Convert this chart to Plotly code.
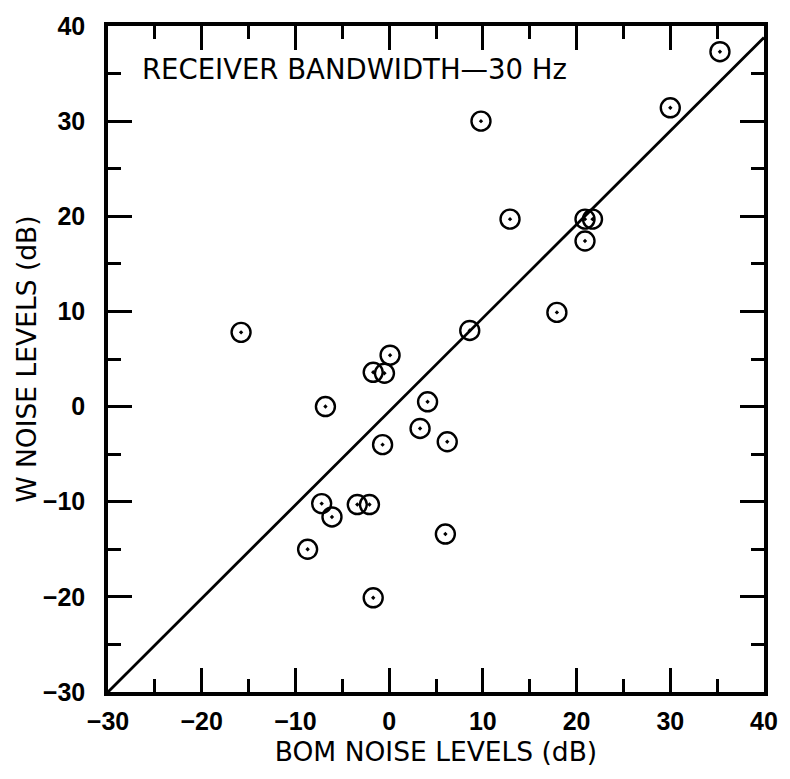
import plotly.graph_objects as go

# Data
bom_db = [-15.8, -6.8, -1.7, -0.5, 0.1, 4.1, 3.3, 6.2, -0.7, -7.2, -6.1, -3.4, -2.1,
          -8.7, 6.0, -1.7, 8.6, 9.8, 12.9, 17.9, 20.9, 21.7, 20.9, 30.0, 35.3]
w_db = [7.8, 0.0, 3.6, 3.5, 5.4, 0.5, -2.3, -3.7, -4.0, -10.2, -11.6, -10.3, -10.3,
        -15.0, -13.4, -20.1, 8.0, 30.0, 19.7, 9.9, 19.7, 19.7, 17.4, 31.4, 37.3]

fit_x = [-30, 40]
fit_y = [-30, 38.8]

tick_vals = [-30, -20, -10, 0, 10, 20, 30, 40]
tick_text = ["\u221230", "\u221220", "\u221210", "0", "10", "20", "30", "40"]

TICK_FONT = "Liberation Sans, Arial, sans-serif"
TEXT_FONT = "DejaVu Sans, Verdana, sans-serif"

fig = go.Figure()
fig.add_trace(go.Scatter(x=fit_x, y=fit_y, mode="lines",
                         line=dict(color="black", width=2.8), showlegend=False))
fig.add_trace(go.Scatter(x=bom_db, y=w_db, mode="markers",
                         marker=dict(symbol="circle-open-dot", size=19, color="black",
                                     line=dict(width=2.4, color="black")),
                         showlegend=False))

axis_common = dict(
    showgrid=False, zeroline=False, showline=True, linecolor="black", linewidth=3.5,
    mirror="allticks", ticks="inside", ticklen=24, tickwidth=2.8, tickcolor="black",
    tickvals=tick_vals, ticktext=tick_text,
    tickfont=dict(family=TICK_FONT, size=25, color="black", weight="bold"),
    minor=dict(ticks="inside", ticklen=13, tickwidth=2.8, tickcolor="black", dtick=5, tick0=0),
)

fig.update_xaxes(range=[-30, 40], ticklabelstandoff=4,
                 title=dict(text="BOM NOISE LEVELS (dB)",
                            font=dict(family=TEXT_FONT, size=26.5, color="black"), standoff=10),
                 **axis_common)
fig.update_yaxes(range=[-30, 40], ticklabelstandoff=14,
                 title=dict(text="W NOISE LEVELS (dB)",
                            font=dict(family=TEXT_FONT, size=26.5, color="black"), standoff=0),
                 **axis_common)

fig.add_annotation(x=-26.6, y=35.5, xref="x", yref="y", xanchor="left", yanchor="middle",
                   text="RECEIVER BANDWIDTH\u201430 Hz", showarrow=False,
                   font=dict(family=TEXT_FONT, size=27.5, color="black"))

fig.update_layout(width=790, height=779, margin=dict(l=108, r=17, t=17, b=87),
                  paper_bgcolor="white", plot_bgcolor="white")

fig.write_html("out.html")
